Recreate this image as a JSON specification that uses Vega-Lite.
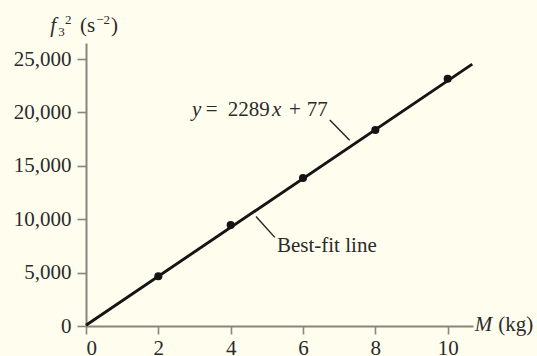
{
  "$schema": "https://vega.github.io/schema/vega-lite/v6.json",
  "width": 387,
  "height": 283,
  "autosize": {"type": "none"},
  "padding": {"left": 86, "top": 43, "right": 64, "bottom": 30},
  "background": "#fefdee",
  "config": {
    "view": {"stroke": null},
    "text": {"font": "Liberation Serif", "fontSize": 21, "color": "#2b2b2b"},
    "axis": {
      "grid": false,
      "title": null,
      "domainColor": "#86867c",
      "domainWidth": 2,
      "tickColor": "#86867c",
      "tickWidth": 1.6,
      "labelFont": "Liberation Serif",
      "labelFontSize": 21,
      "labelColor": "#2b2b2b"
    }
  },
  "datasets": {
    "measured": [
      {"M": 2, "f2": 4650},
      {"M": 4, "f2": 9450},
      {"M": 6, "f2": 13850},
      {"M": 8, "f2": 18350},
      {"M": 10, "f2": 23150}
    ],
    "fit": [
      {"M": 0, "f2": 77},
      {"M": 10.68, "f2": 24524}
    ],
    "leaders": [
      {"x1": 6.74, "y1": 19290, "x2": 7.29, "y2": 17400},
      {"x1": 4.7, "y1": 10250, "x2": 5.22, "y2": 8300}
    ],
    "italicText": [
      {"x": 2.93, "y": 20200, "t": "y"},
      {"x": 5.14, "y": 20200, "t": "x"},
      {"x": -0.99, "y": 28050, "t": "f"},
      {"x": 10.75, "y": 60, "t": "M"}
    ],
    "romanText": [
      {"x": 3.31, "y": 20200, "t": "="},
      {"x": 3.92, "y": 20200, "t": "2289"},
      {"x": 5.61, "y": 20200, "t": "+"},
      {"x": 6.1, "y": 20200, "t": "77"},
      {"x": 5.28, "y": 7490, "t": "Best-fit line"},
      {"x": -0.166, "y": 28050, "t": "(s"},
      {"x": 0.69, "y": 28050, "t": ")"},
      {"x": 11.4, "y": 60, "t": "(kg)"}
    ],
    "smallText": [
      {"x": -0.77, "y": 27530, "t": "3"},
      {"x": -0.58, "y": 28650, "t": "2"},
      {"x": 0.28, "y": 28650, "t": "−2"}
    ]
  },
  "layer": [
    {
      "data": {"name": "fit"},
      "mark": {"type": "line", "color": "#141414", "strokeWidth": 2.9},
      "encoding": {
        "x": {
          "field": "M",
          "type": "quantitative",
          "scale": {"domain": [0, 10.7], "nice": false, "zero": false},
          "axis": {"values": [0, 2, 4, 6, 8, 10], "tickSize": 8, "labelPadding": 3}
        },
        "y": {
          "field": "f2",
          "type": "quantitative",
          "scale": {"domain": [0, 26500], "nice": false},
          "axis": {"values": [0, 5000, 10000, 15000, 20000, 25000], "format": ",.0f", "tickSize": 9, "labelPadding": 6}
        }
      }
    },
    {
      "data": {"name": "measured"},
      "mark": {"type": "point", "filled": true, "shape": "circle", "size": 65, "color": "#141414", "opacity": 1},
      "encoding": {
        "x": {"field": "M", "type": "quantitative"},
        "y": {"field": "f2", "type": "quantitative"}
      }
    },
    {
      "data": {"name": "leaders"},
      "mark": {"type": "rule", "color": "#222222", "strokeWidth": 1.4},
      "encoding": {
        "x": {"field": "x1", "type": "quantitative"},
        "y": {"field": "y1", "type": "quantitative"},
        "x2": {"field": "x2"},
        "y2": {"field": "y2"}
      }
    },
    {
      "data": {"name": "italicText"},
      "mark": {"type": "text", "align": "left", "baseline": "middle", "fontStyle": "italic"},
      "encoding": {
        "x": {"field": "x", "type": "quantitative"},
        "y": {"field": "y", "type": "quantitative"},
        "text": {"field": "t"}
      }
    },
    {
      "data": {"name": "romanText"},
      "mark": {"type": "text", "align": "left", "baseline": "middle"},
      "encoding": {
        "x": {"field": "x", "type": "quantitative"},
        "y": {"field": "y", "type": "quantitative"},
        "text": {"field": "t"}
      }
    },
    {
      "data": {"name": "smallText"},
      "mark": {"type": "text", "align": "left", "baseline": "middle", "fontSize": 13},
      "encoding": {
        "x": {"field": "x", "type": "quantitative"},
        "y": {"field": "y", "type": "quantitative"},
        "text": {"field": "t"}
      }
    }
  ]
}
